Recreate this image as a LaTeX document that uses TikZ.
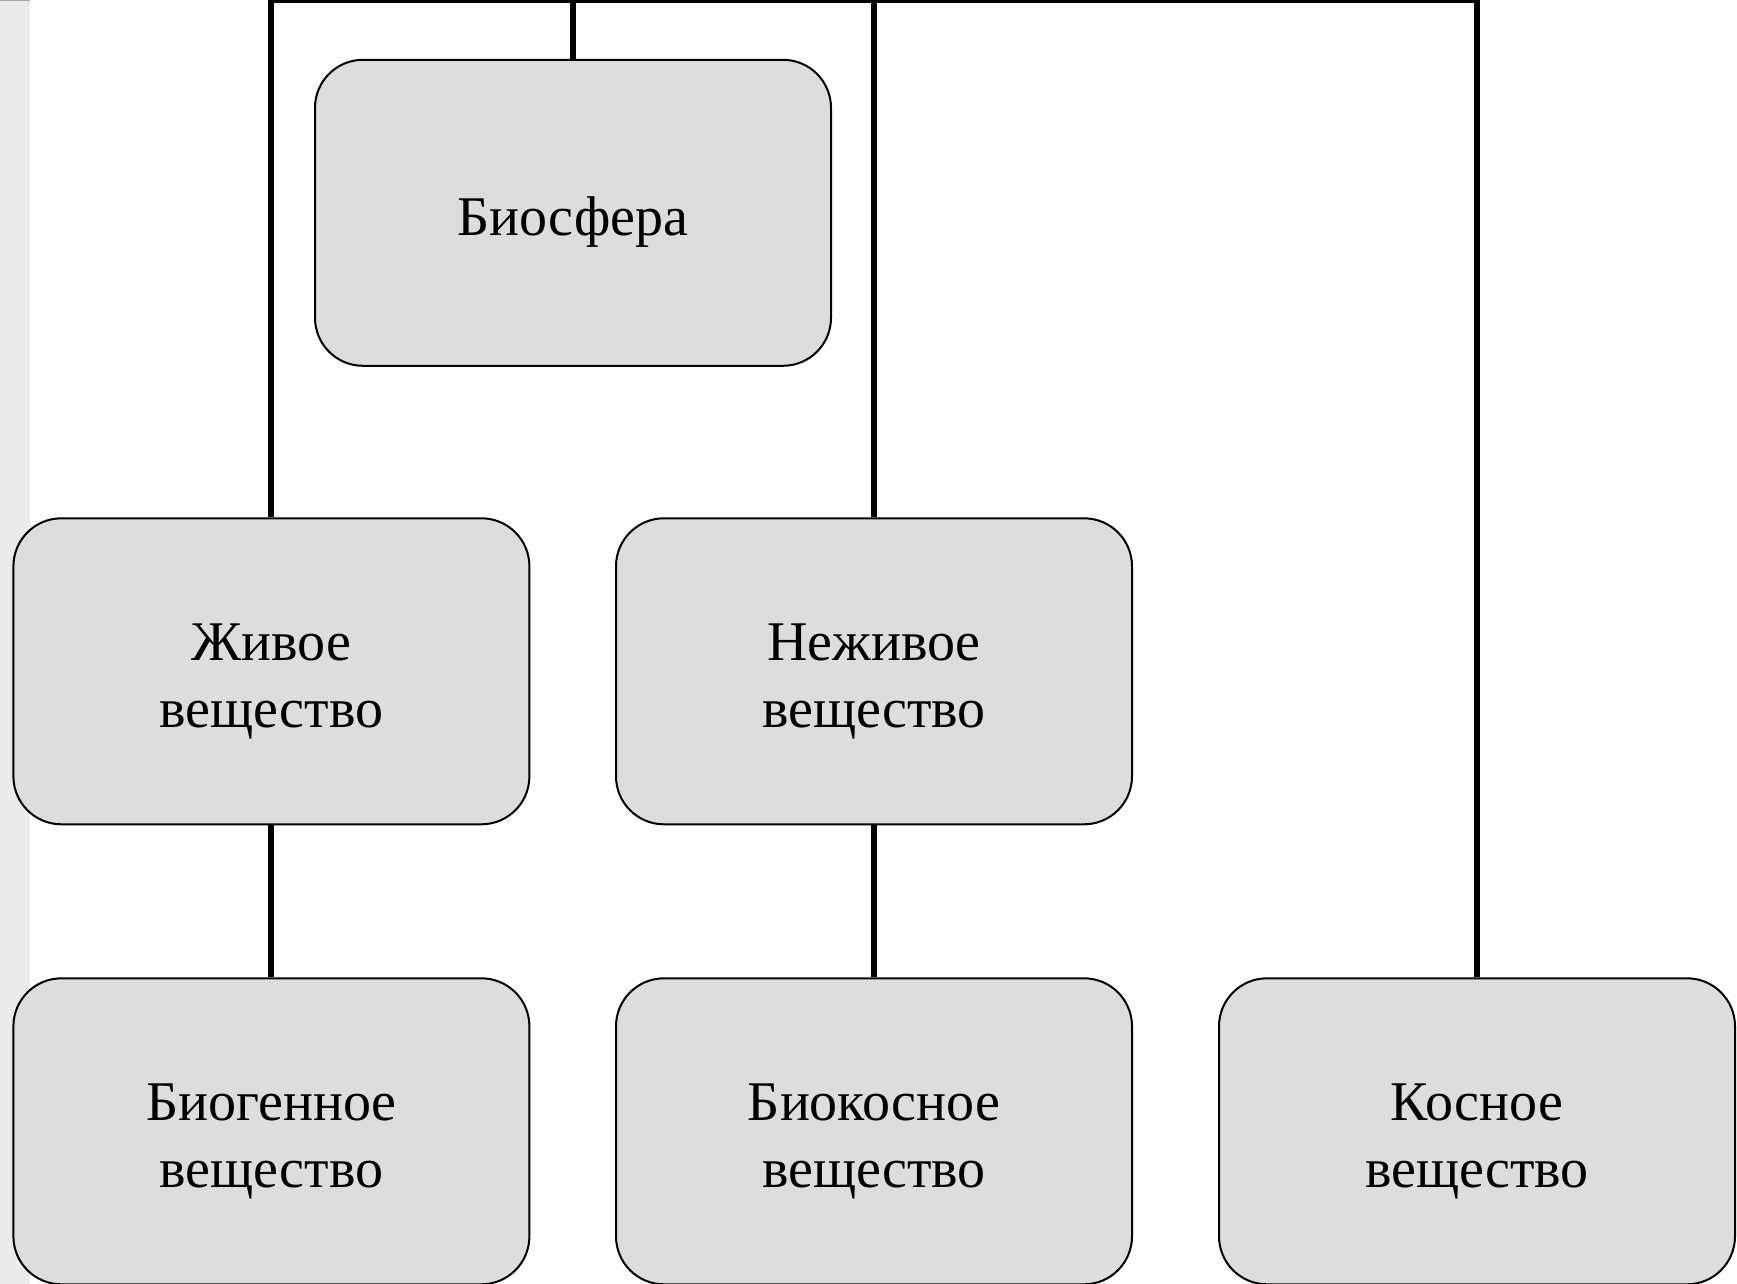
\documentclass[tikz,border=0pt]{standalone}
\usepackage{fontspec}
\setmainfont{Liberation Serif}
\definecolor{boxfill}{HTML}{DDDDDD}
\definecolor{stripfill}{HTML}{EBEBEB}
\newcommand\boxtxt[1]{\raisebox{-9pt}[\height][\depth]{\begin{tabular}{@{}c@{}}#1\end{tabular}}}
\tikzset{
  sbox/.style={draw=black, line width=2pt, fill=boxfill, rounded corners=48pt,
    minimum width=516pt, minimum height=306pt, inner sep=0pt, align=center,
    font=\fontsize{56}{67}\selectfont},
  conn/.style={draw=black, line width=6pt}
}
\begin{document}
\begin{tikzpicture}[x=1pt,y=-1pt]
\useasboundingbox (0,0) rectangle (1737,1284);
\clip (0,0) rectangle (1737,1284);
\fill[white] (0,0) rectangle (1737,1284);
\fill[stripfill] (0,0) rectangle (30,1284);
\draw[gray!70, line width=1pt] (0,0.5) -- (30,0.5);
% nodes
\node[sbox] (bio) at (573,212.8) {\boxtxt{Биосфера}};
\node[sbox] (zhiv) at (271.4,671.3) {\boxtxt{Живое\\вещество}};
\node[sbox] (nezh) at (874,671.3) {\boxtxt{Неживое\\вещество}};
\node[sbox] (biogen) at (271.4,1131.3) {\boxtxt{Биогенное\\вещество}};
\node[sbox] (biokos) at (874,1131.3) {\boxtxt{Биокосное\\вещество}};
\node[sbox] (kos) at (1477,1131.3) {\boxtxt{Косное\\вещество}};
% top bus
\coordinate (tl) at (271.4,0);
\coordinate (tr) at (1477,0);
\draw[conn] (tl) -- (tr);
\draw[conn] (zhiv.north) -- (zhiv.north |- tl);
\draw[conn] (bio.north) -- (bio.north |- tl);
\draw[conn] (nezh.north) -- (nezh.north |- tl);
\draw[conn] (kos.north) -- (kos.north |- tl);
\draw[conn] (zhiv.south) -- (biogen.north);
\draw[conn] (nezh.south) -- (biokos.north);
\end{tikzpicture}
\end{document}
